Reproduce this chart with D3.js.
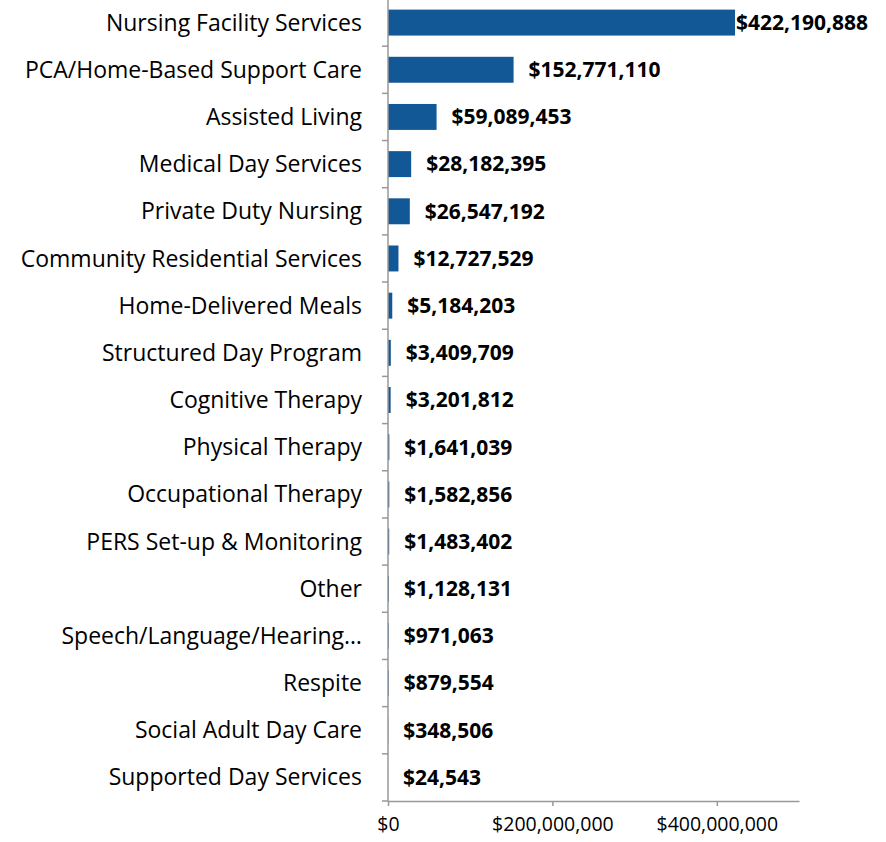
<!DOCTYPE html>
<html>
<head>
<meta charset="utf-8">
<script src="https://cdn.jsdelivr.net/npm/d3@7"></script>
<style>
  body { margin: 0; background: #fff; }
  svg { font-family: "Open Sans", sans-serif; }
  .cat { font-size: 23px; fill: #000; }
  .val { font-size: 21px; font-weight: bold; fill: #000; }
  .tick text { font-size: 19.5px; fill: #000; font-family: "Open Sans", sans-serif; }
</style>
</head>
<body>
<svg width="886" height="842"></svg>
<script>
const categories = [
  "Nursing Facility Services", "PCA/Home-Based Support Care", "Assisted Living",
  "Medical Day Services", "Private Duty Nursing", "Community Residential Services",
  "Home-Delivered Meals", "Structured Day Program", "Cognitive Therapy",
  "Physical Therapy", "Occupational Therapy", "PERS Set-up & Monitoring",
  "Other", "Speech/Language/Hearing…", "Respite", "Social Adult Day Care",
  "Supported Day Services"
];
const values = [
  422190888, 152771110, 59089453, 28182395, 26547192, 12727529, 5184203,
  3409709, 3201812, 1641039, 1582856, 1483402, 1128131, 971063, 879554,
  348506, 24543
];
const xTicks = [0, 200000000, 400000000];

const svg = d3.select("svg");
const plotLeft = 388, plotRight = 799, plotTop = -1, plotBottom = 801;

const x = d3.scaleLinear().domain([0, 500000000]).range([plotLeft, plotRight]);
const y = d3.scaleBand().domain(categories).range([plotTop, plotBottom]).paddingInner(0.45).paddingOuter(0.225);

const money = d3.format("$,");

// bars
svg.selectAll("rect.bar")
  .data(categories)
  .enter()
  .append("rect")
  .attr("class", "bar")
  .attr("x", x(0))
  .attr("y", d => y(d))
  .attr("width", (d, i) => x(values[i]) - x(0))
  .attr("height", y.bandwidth())
  .attr("fill", "#135896");

// value labels
svg.selectAll("text.val")
  .data(categories)
  .enter()
  .append("text")
  .attr("class", "val")
  .attr("x", (d, i) => Math.min(x(values[i]) + 15, 736))
  .attr("y", d => y(d) + y.bandwidth() / 2)
  .attr("dy", "0.35em")
  .text((d, i) => money(values[i]));

// category labels
svg.selectAll("text.cat")
  .data(categories)
  .enter()
  .append("text")
  .attr("class", "cat")
  .attr("x", 362)
  .attr("y", d => y(d) + y.bandwidth() / 2)
  .attr("dy", "0.35em")
  .attr("text-anchor", "end")
  .text(d => d);

// y axis line with ticks between categories
svg.append("line")
  .attr("x1", plotLeft).attr("x2", plotLeft)
  .attr("y1", 0).attr("y2", plotBottom)
  .attr("stroke", "#999").attr("stroke-width", 1.5);

const step = y.step();
const bounds = d3.range(categories.length + 1).map(i => plotTop + i * step);
svg.selectAll("line.ytick")
  .data(bounds)
  .enter()
  .append("line")
  .attr("class", "ytick")
  .attr("x1", plotLeft - 6).attr("x2", plotLeft)
  .attr("y1", d => d).attr("y2", d => d)
  .attr("stroke", "#999").attr("stroke-width", 1.5);

// x axis
const xAxis = d3.axisBottom(x)
  .tickValues(xTicks)
  .tickSize(5)
  .tickSizeOuter(0)
  .tickFormat(money);

const gx = svg.append("g")
  .attr("transform", `translate(0,${plotBottom})`)
  .call(xAxis)
  .attr("font-family", null)
  .attr("font-size", null);
gx.select(".domain").attr("stroke", "#999").attr("stroke-width", 1.5);
gx.selectAll(".tick line").attr("stroke", "#999").attr("stroke-width", 1.5);
gx.selectAll(".tick text").attr("y", 16).attr("dy", "0.71em");
</script>
</body>
</html>
